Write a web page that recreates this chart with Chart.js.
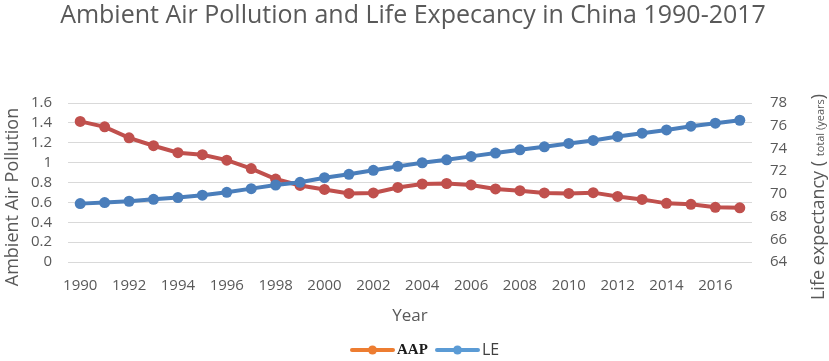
<!DOCTYPE html>
<html><head><meta charset="utf-8">
<script src="https://cdn.jsdelivr.net/npm/chart.js@4/dist/chart.umd.min.js"></script>
<style>html,body{margin:0;padding:0;background:#fff;}#wrap{width:829px;height:361px;position:relative}</style>
</head><body><div id="wrap"><canvas id="c" width="829" height="361"></canvas></div>
<script>
const years = ['1990','1991','1992','1993','1994','1995','1996','1997','1998','1999','2000','2001','2002','2003','2004','2005','2006','2007','2008','2009','2010','2011','2012','2013','2014','2015','2016','2017'];
const aap = [1.415,1.36,1.25,1.17,1.10,1.08,1.025,0.94,0.835,0.77,0.73,0.69,0.695,0.75,0.785,0.79,0.775,0.735,0.718,0.695,0.69,0.698,0.66,0.63,0.59,0.58,0.55,0.545];
const le = [69.14,69.23,69.35,69.52,69.67,69.88,70.14,70.46,70.78,71.02,71.42,71.72,72.07,72.42,72.74,73.0,73.3,73.59,73.88,74.14,74.44,74.70,75.05,75.34,75.63,75.96,76.22,76.48];
const seriesNames = ['AAP','LE'];
const chartTitle = 'Ambient Air Pollution and Life Expecancy in China 1990-2017';
const xTitle = 'Year';
const yLeftTitle = 'Ambient Air Pollution';
const yRightTitleParts = ['Life expectancy ( ', 'total (years', ')'];

const GREY = '#595959';
const FONT = "'Open Sans', 'Noto Sans', sans-serif";

const extras = {
  id: 'extras',
  afterDraw(chart) {
    const ctx = chart.ctx;
    ctx.save();
    // title
    ctx.fillStyle = GREY;
    ctx.font = "25px " + FONT;
    ctx.textAlign = 'center';
    ctx.textBaseline = 'alphabetic';
    ctx.fillText(chartTitle, 413, 23);
    // left axis title
    ctx.save();
    ctx.font = "18px " + FONT;
    ctx.translate(18, 197);
    ctx.rotate(-Math.PI / 2);
    ctx.textAlign = 'center';
    ctx.fillText(yLeftTitle, 0, 0);
    ctx.restore();
    // right axis title (rotated, mixed sizes)
    const big = "18px " + FONT, small = "11px " + FONT;
    const fonts = [big, small, big];
    let widths = yRightTitleParts.map((t, i) => { ctx.font = fonts[i]; return ctx.measureText(t).width; });
    const W = widths.reduce((a, b) => a + b, 0);
    ctx.translate(819, 197);
    ctx.rotate(-Math.PI / 2);
    ctx.textAlign = 'left';
    let x = -W / 2;
    yRightTitleParts.forEach((t, i) => { ctx.font = fonts[i]; ctx.fillText(t, x, 5); x += widths[i]; });
    ctx.restore();
    // legend
    ctx.save();
    const items = [
      {name: seriesNames[0], color: '#ED7D31', x1: 352, x2: 393, tx: 397, font: "bold 15px 'Liberation Serif', serif", tc: '#1a1a1a'},
      {name: seriesNames[1], color: '#5B9BD5', x1: 437, x2: 478, tx: 482, font: "16px " + FONT, tc: '#404040'}
    ];
    const ly = 350;
    items.forEach(it => {
      ctx.strokeStyle = it.color; ctx.lineWidth = 4; ctx.lineCap = 'round';
      ctx.beginPath(); ctx.moveTo(it.x1, ly); ctx.lineTo(it.x2, ly); ctx.stroke();
      ctx.fillStyle = it.color; ctx.beginPath(); ctx.arc((it.x1 + it.x2) / 2, ly, 4.5, 0, Math.PI * 2); ctx.fill();
      ctx.fillStyle = it.tc; ctx.font = it.font; ctx.textAlign = 'left'; ctx.textBaseline = 'middle';
      ctx.fillText(it.name, it.tx, ly);
    });
    ctx.restore();
  }
};

new Chart(document.getElementById('c'), {
  type: 'line',
  data: {
    labels: years,
    datasets: [
      {label: seriesNames[0], data: aap, yAxisID: 'y', borderColor: '#C0504D', backgroundColor: '#C0504D', borderWidth: 4, pointRadius: 5.5, pointBorderWidth: 0, pointBackgroundColor: '#C0504D', order: 2, tension: 0},
      {label: seriesNames[1], data: le, yAxisID: 'y1', borderColor: '#4A7EBB', backgroundColor: '#4A7EBB', borderWidth: 4, pointRadius: 5.5, pointBorderWidth: 0, pointBackgroundColor: '#4A7EBB', order: 1, tension: 0}
    ]
  },
  options: {
    responsive: false, animation: false, devicePixelRatio: 1,
    layout: {padding: {top: 103, bottom: 29, left: 0, right: 0}},
    plugins: {legend: {display: false}, title: {display: false}, tooltip: {enabled: false}},
    scales: {
      x: {
        type: 'category', offset: true,
        grid: {display: false, drawTicks: false}, border: {display: false},
        ticks: {autoSkip: false, maxRotation: 0, minRotation: 0, padding: 15, color: GREY, font: {size: 15, family: FONT},
          callback: (v, i) => (i % 2 === 0 ? years[i] : '')},
        title: {display: true, text: xTitle, color: GREY, font: {size: 17, family: FONT}, padding: {top: 0, bottom: 6}},
        afterFit: s => { s.height = 70; }
      },
      y: {
        position: 'left', min: 0, max: 1.6,
        grid: {color: '#d9d9d9', lineWidth: 1, drawTicks: false}, border: {display: false},
        ticks: {stepSize: 0.2, autoSkip: false, padding: 16, color: GREY, font: {size: 15, family: FONT},
          callback: v => String(Math.round(v * 10) / 10)},
        afterFit: s => { s.width = 68; }
      },
      y1: {
        position: 'right', min: 64, max: 78,
        grid: {display: false, drawTicks: false}, border: {display: false},
        ticks: {stepSize: 2, autoSkip: false, padding: 18, color: GREY, font: {size: 15, family: FONT}},
        afterFit: s => { s.width = 77; }
      }
    }
  },
  plugins: [extras]
});
</script></body></html>
